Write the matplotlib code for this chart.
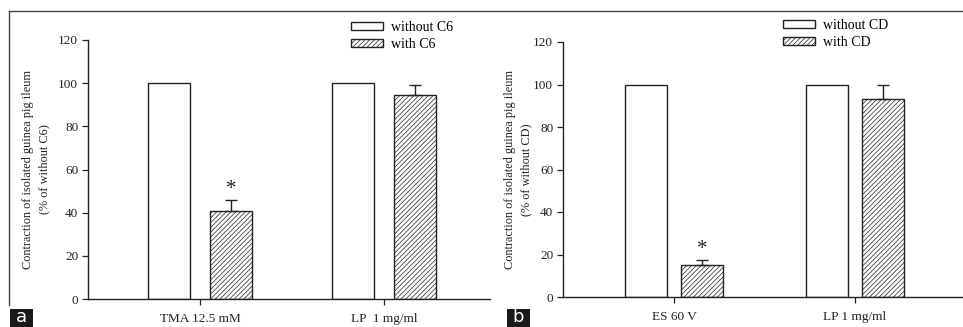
import matplotlib
matplotlib.use("Agg")
import matplotlib.pyplot as plt
from matplotlib.patches import Rectangle
import numpy as np

plt.rcParams['font.family'] = ['Liberation Serif', 'DejaVu Serif']
plt.rcParams['hatch.linewidth'] = 0.5

# Panel a data
cats_a = ["TMA 12.5 mM", "LP  1 mg/ml"]
without_a = [100, 100]
with_a = [41, 94.5]
err_a = [4.8, 4.8]
leg_a = ["without C6", "with C6"]
ylabel_a = "Contraction of isolated guinea pig ileum\n(% of without C6)"

# Panel b data
cats_b = ["ES 60 V", "LP 1 mg/ml"]
without_b = [100, 100]
with_b = [15, 93]
err_b = [2.5, 6.6]
leg_b = ["without CD", "with CD"]
ylabel_b = "Contraction of isolated guinea pig ileum\n(% of without CD)"

yticks = [0, 20, 40, 60, 80, 100, 120]

W, H = 963, 327
fig = plt.figure(figsize=(W / 100, H / 100), dpi=100)


def px_axes(x0, y_top, x1, y_bot):
    return fig.add_axes([x0 / W, 1 - y_bot / H, (x1 - x0) / W, (y_bot - y_top) / H])


def draw_panel(ax, cats, wo, wi, err, legl, ylabel, xlim, off, bw, star_idx, legpos, lpad):
    x = np.arange(len(cats))
    ax.bar(x - off, wo, bw, color="white", edgecolor="#222222", linewidth=1.0, label=legl[0], zorder=2)
    ax.bar(x + off, wi, bw, color="white", edgecolor="#222222", hatch="///////", linewidth=1.0,
           label=legl[1], zorder=2)
    ax.errorbar(x + off, wi, yerr=[np.zeros(len(err)), err], fmt="none", ecolor="#222222",
                elinewidth=1.0, capsize=4, capthick=1.0, zorder=3)
    for i in star_idx:
        ax.text(x[i] + off, wi[i] + err[i] + 0.5, "*", ha="center", va="bottom", fontsize=15,
                color="#222222")
    ax.set_xlim(*xlim)
    ax.set_ylim(0, 120)
    ax.set_yticks(yticks)
    ax.set_xticks(x)
    ax.set_xticklabels(cats, fontsize=9.5)
    ax.tick_params(axis="y", labelsize=9.5, length=4, width=0.9, direction="out", pad=3,
                   colors="#222222")
    ax.tick_params(axis="x", length=4, width=0.9, direction="out", pad=6, colors="#222222")
    for s in ["top", "right"]:
        ax.spines[s].set_visible(False)
    for s in ["left", "bottom"]:
        ax.spines[s].set_linewidth(1.0)
        ax.spines[s].set_color("#222222")
    ax.set_ylabel(ylabel, fontsize=8.8, linespacing=1.4, labelpad=lpad, color="#222222")
    ax.patch.set_alpha(0)
    ax.legend(loc="upper left", bbox_to_anchor=legpos, bbox_transform=fig.transFigure,
              frameon=False, fontsize=10, handlelength=2.3, handleheight=0.55,
              handletextpad=0.55, labelspacing=0.3, borderaxespad=0, borderpad=0)
    return ax


ax_a = px_axes(88, 40, 490, 299)
draw_panel(ax_a, cats_a, without_a, with_a, err_a, leg_a, ylabel_a,
           (-0.609, 1.576), 0.168, 0.228, [0], (351 / W, 1 - 21 / H), 6)

ax_b = px_axes(563, 42, 963, 297)
draw_panel(ax_b, cats_b, without_b, with_b, err_b, leg_b, ylabel_b,
           (-0.613, 1.597), 0.157, 0.232, [0], (783 / W, 1 - 19 / H), 1)

# frame lines
fig.add_artist(plt.Line2D([9 / W, 9 / W], [1 - 11 / H, 1 - 305 / H], transform=fig.transFigure,
                          color="#444444", linewidth=1.0))
fig.add_artist(plt.Line2D([9 / W, 1], [1 - 11 / H, 1 - 11 / H], transform=fig.transFigure,
                          color="#444444", linewidth=1.0))

# panel letters
for lx, lab in [(10, "a"), (507, "b")]:
    fig.add_artist(Rectangle((lx / W, 0), 23 / W, 18 / H, transform=fig.transFigure,
                             facecolor="#1a1a1a", edgecolor="none"))
    fig.text((lx + 11.5) / W, 0.5 / H, lab, color="white", fontsize=13, ha="center", va="bottom",
             family="DejaVu Sans")

fig.savefig("out.png", dpi=100)
